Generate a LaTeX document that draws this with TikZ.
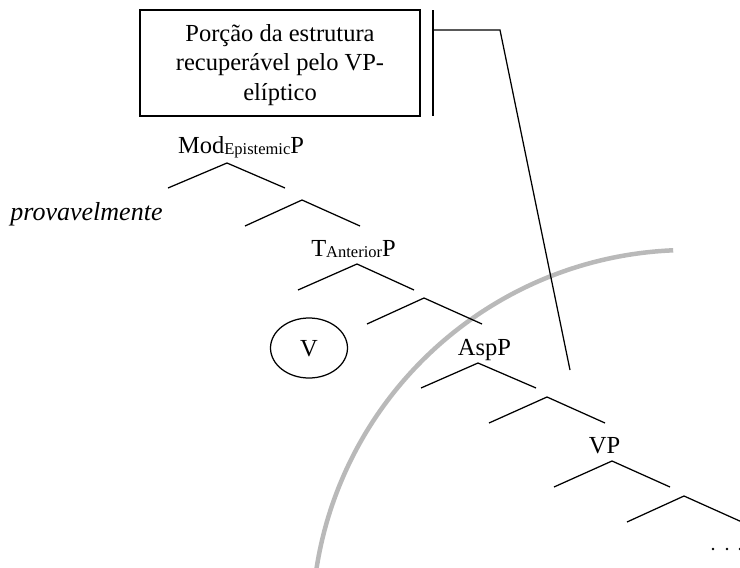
\documentclass[tikz,border=0pt]{standalone}
\usepackage{fontspec}
\setmainfont{Liberation Serif}
\usetikzlibrary{shapes.geometric}
\newcommand{\lowsub}[1]{\raisebox{-1pt}{\fontsize{16.5}{18}\selectfont #1}}
\begin{document}
\begin{tikzpicture}[x=1pt,y=-1pt,
  branch/.style={line width=1.25pt},
  label/.style={anchor=base, inner sep=0pt, font=\fontsize{24.5}{30}\selectfont},
  frame/.style={draw, line width=1.3pt, minimum width=280pt, minimum height=106pt, inner sep=0pt},
  region/.style={draw=gray!55, line width=4.5pt},
  dot/.style={fill=black, draw=none}]
\useasboundingbox (0,0) rectangle (740,568);
\clip (0,0) rectangle (740,568);

% boundary of the recoverable region
\coordinate (arcstart) at (313.4,594.1);
\draw[region] (arcstart) arc[start angle=185, end angle=267.6, radius=377];

% caption box
\node[frame] (box) at (280,63) {};
\node[label] (cap1) at (280,41) {Porção da estrutura};
\node[label] (cap2) at (280,70) {recuperável pelo VP-};
\node[label] (cap3) at (280,100) {elíptico};

% bracket pointing into the tree
\coordinate (bt) at (433,10);
\coordinate (bb) at (433,116);
\coordinate (bj) at (433,30);
\coordinate (bk) at (500,30);
\coordinate (be) at (570,370);
\draw[branch] (bt) -- (bb);
\draw[branch] (bj) -- (bk) -- (be);

% ModP
\node[label] (mod) at (241,153) {Mod\lowsub{Epistemic}P};
\coordinate (m0) at (227,163); \coordinate (m0l) at (168,188); \coordinate (m0r) at (285,188);
\draw[branch] (m0l) -- (m0) -- (m0r);
\coordinate (m1) at (302,200); \coordinate (m1l) at (245,226); \coordinate (m1r) at (360,226);
\draw[branch] (m1l) -- (m1) -- (m1r);
\node[label, font=\fontsize{26}{30}\selectfont\itshape] (adv) at (86.5,220) {provavelmente};

% TP
\node[label] (tp) at (353.5,256) {T\lowsub{Anterior}P};
\coordinate (t0) at (357,264); \coordinate (t0l) at (298,290); \coordinate (t0r) at (414,290);
\draw[branch] (t0l) -- (t0) -- (t0r);
\coordinate (t1) at (424,298); \coordinate (t1l) at (367,324); \coordinate (t1r) at (482,324);
\draw[branch] (t1l) -- (t1) -- (t1r);
\node[ellipse, draw, line width=1.25pt, minimum width=77pt, minimum height=60pt, inner sep=0pt] (vcirc) at (309,348) {};
\node[label] (v) at (309,356) {V};

% AspP
\node[label] (asp) at (484.5,355) {AspP};
\coordinate (a0) at (478,363); \coordinate (a0l) at (421,388); \coordinate (a0r) at (536,388);
\draw[branch] (a0l) -- (a0) -- (a0r);
\coordinate (a1) at (547,397); \coordinate (a1l) at (489,423); \coordinate (a1r) at (605,423);
\draw[branch] (a1l) -- (a1) -- (a1r);

% VP
\node[label] (vp) at (604.5,453) {VP};
\coordinate (p0) at (612,461); \coordinate (p0l) at (554,487); \coordinate (p0r) at (670,487);
\draw[branch] (p0l) -- (p0) -- (p0r);
\coordinate (p1) at (684,496); \coordinate (p1l) at (627,522); \coordinate (p1r) at (762,531);
\draw[branch] (p1l) -- (p1) -- (p1r);

% continuation dots
\fill[dot] (713,549) circle[radius=1.4];
\fill[dot] (727,549) circle[radius=1.4];
\fill[dot] (740,549) circle[radius=1.4];
\end{tikzpicture}
\end{document}
